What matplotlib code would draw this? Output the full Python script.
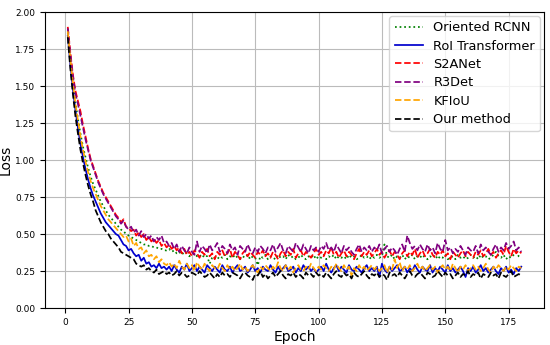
import matplotlib
matplotlib.use("Agg")
import matplotlib.pyplot as plt
import numpy as np

epochs = list(range(1, 181))

oriented_rcnn = [
    1.86,1.68,1.52,1.39,1.28,1.18,1.09,1.02,0.95,0.89,0.84,0.80,0.76,0.72,0.69,0.66,0.63,0.61,0.59,0.57,
    0.55,0.53,0.52,0.50,0.49,0.48,0.47,0.46,0.45,0.44,0.43,0.43,0.42,0.42,0.41,0.41,0.40,0.40,0.39,0.39,
    0.40,0.38,0.39,0.37,0.38,0.36,0.38,0.37,0.35,0.36,0.37,0.35,0.36,0.34,0.36,0.35,0.30,0.34,0.35,0.33,
    0.35,0.34,0.36,0.33,0.35,0.34,0.36,0.34,0.33,0.35,0.34,0.36,0.33,0.35,0.34,0.29,0.35,0.34,0.36,0.33,
    0.35,0.34,0.33,0.36,0.34,0.35,0.33,0.36,0.34,0.35,0.33,0.34,0.36,0.34,0.33,0.35,0.34,0.36,0.33,0.35,
    0.34,0.36,0.33,0.35,0.34,0.36,0.33,0.35,0.34,0.35,0.33,0.36,0.34,0.35,0.33,0.34,0.36,0.34,0.35,0.33,
    0.35,0.34,0.36,0.34,0.35,0.43,0.35,0.34,0.36,0.33,0.35,0.34,0.36,0.33,0.35,0.34,0.36,0.33,0.35,0.34,
    0.36,0.34,0.33,0.35,0.34,0.36,0.33,0.35,0.34,0.36,0.33,0.34,0.35,0.33,0.36,0.34,0.35,0.33,0.34,0.36,
    0.34,0.35,0.33,0.36,0.34,0.35,0.33,0.34,0.36,0.38,0.35,0.34,0.36,0.33,0.35,0.34,0.36,0.38,0.35,0.34,
]

roi_transformer = [
    1.84,1.65,1.48,1.34,1.22,1.11,1.02,0.94,0.87,0.81,0.76,0.72,0.68,0.64,0.61,0.58,0.56,0.54,0.52,0.50,
    0.49,0.46,0.43,0.42,0.39,0.40,0.37,0.35,0.36,0.32,0.34,0.30,0.31,0.28,0.29,0.27,0.30,0.27,0.28,0.26,
    0.28,0.25,0.29,0.26,0.24,0.28,0.26,0.30,0.25,0.27,0.29,0.25,0.28,0.26,0.24,0.29,0.27,0.25,0.28,0.26,
    0.24,0.29,0.26,0.25,0.28,0.24,0.27,0.29,0.25,0.26,0.28,0.24,0.26,0.29,0.25,0.27,0.24,0.28,0.26,0.25,
    0.29,0.26,0.24,0.28,0.25,0.27,0.29,0.25,0.26,0.28,0.24,0.27,0.25,0.29,0.26,0.28,0.25,0.27,0.24,0.26,
    0.28,0.25,0.30,0.26,0.24,0.27,0.29,0.25,0.28,0.26,0.24,0.29,0.26,0.25,0.28,0.26,0.24,0.27,0.29,0.25,
    0.27,0.25,0.28,0.21,0.30,0.26,0.24,0.28,0.25,0.27,0.29,0.25,0.26,0.28,0.24,0.27,0.25,0.29,0.26,0.24,
    0.28,0.26,0.25,0.29,0.24,0.27,0.25,0.28,0.26,0.24,0.29,0.25,0.27,0.24,0.26,0.28,0.25,0.21,0.27,0.25,
    0.28,0.24,0.26,0.29,0.25,0.27,0.24,0.26,0.28,0.25,0.23,0.27,0.25,0.28,0.24,0.26,0.23,0.27,0.25,0.28,
]

s2anet = [
    1.90,1.73,1.58,1.47,1.40,1.33,1.24,1.16,1.08,1.01,0.96,0.91,0.86,0.82,0.78,0.75,0.72,0.69,0.66,0.63,
    0.61,0.58,0.60,0.55,0.54,0.52,0.53,0.49,0.51,0.48,0.50,0.46,0.48,0.45,0.47,0.44,0.46,0.42,0.44,0.41,
    0.43,0.40,0.42,0.39,0.41,0.37,0.40,0.36,0.38,0.35,0.39,0.37,0.34,0.38,0.36,0.40,0.35,0.37,0.33,0.38,
    0.36,0.39,0.35,0.37,0.40,0.34,0.38,0.36,0.33,0.37,0.39,0.35,0.38,0.36,0.34,0.38,0.36,0.39,0.35,0.37,
    0.34,0.38,0.36,0.33,0.37,0.39,0.35,0.38,0.36,0.40,0.34,0.37,0.39,0.35,0.38,0.36,0.34,0.37,0.40,0.36,
    0.38,0.35,0.39,0.37,0.41,0.36,0.38,0.34,0.37,0.39,0.35,0.38,0.36,0.33,0.37,0.40,0.35,0.38,0.36,0.39,
    0.35,0.37,0.40,0.36,0.38,0.34,0.37,0.39,0.35,0.38,0.36,0.33,0.37,0.39,0.35,0.38,0.36,0.40,0.34,0.37,
    0.39,0.35,0.37,0.40,0.36,0.34,0.38,0.36,0.39,0.35,0.37,0.33,0.38,0.36,0.34,0.37,0.39,0.35,0.38,0.36,
    0.34,0.38,0.36,0.39,0.35,0.37,0.40,0.36,0.38,0.34,0.37,0.39,0.36,0.42,0.38,0.35,0.40,0.37,0.39,0.37,
]

r3det = [
    1.89,1.72,1.57,1.45,1.38,1.30,1.22,1.14,1.07,1.00,0.95,0.90,0.85,0.81,0.77,0.74,0.71,0.68,0.65,0.62,
    0.60,0.57,0.59,0.55,0.53,0.55,0.51,0.53,0.49,0.52,0.48,0.50,0.47,0.49,0.45,0.48,0.46,0.49,0.44,0.45,
    0.42,0.44,0.40,0.43,0.38,0.42,0.39,0.37,0.41,0.38,0.36,0.45,0.38,0.42,0.40,0.37,0.43,0.39,0.41,0.44,
    0.38,0.42,0.40,0.37,0.43,0.39,0.41,0.36,0.42,0.40,0.38,0.43,0.39,0.37,0.41,0.38,0.42,0.40,0.37,0.41,
    0.39,0.43,0.38,0.41,0.44,0.39,0.37,0.42,0.40,0.38,0.44,0.41,0.38,0.43,0.40,0.37,0.42,0.39,0.41,0.38,
    0.42,0.40,0.44,0.39,0.41,0.38,0.43,0.40,0.37,0.42,0.39,0.41,0.38,0.36,0.40,0.43,0.38,0.41,0.39,0.42,
    0.38,0.41,0.39,0.43,0.37,0.40,0.42,0.38,0.41,0.39,0.36,0.40,0.43,0.38,0.49,0.44,0.40,0.42,0.39,0.43,
    0.40,0.38,0.43,0.39,0.41,0.37,0.44,0.40,0.38,0.46,0.39,0.41,0.37,0.40,0.38,0.42,0.39,0.36,0.41,0.39,
    0.38,0.42,0.37,0.43,0.39,0.41,0.38,0.36,0.40,0.43,0.38,0.41,0.39,0.44,0.40,0.42,0.45,0.39,0.41,0.38,
]

kfiou = [
    1.87,1.68,1.52,1.38,1.27,1.16,1.07,0.99,0.92,0.86,0.81,0.77,0.73,0.69,0.66,0.63,0.60,0.58,0.56,0.54,
    0.52,0.50,0.48,0.49,0.45,0.47,0.42,0.44,0.40,0.41,0.37,0.39,0.35,0.36,0.33,0.35,0.31,0.33,0.30,0.29,
    0.31,0.28,0.30,0.27,0.32,0.28,0.26,0.30,0.27,0.29,0.25,0.31,0.28,0.26,0.30,0.27,0.25,0.29,0.27,0.26,
    0.30,0.27,0.25,0.29,0.26,0.28,0.25,0.27,0.30,0.26,0.28,0.25,0.27,0.29,0.26,0.24,0.28,0.26,0.29,0.27,
    0.25,0.28,0.26,0.31,0.27,0.25,0.29,0.26,0.28,0.24,0.27,0.29,0.26,0.25,0.28,0.26,0.30,0.27,0.25,0.28,
    0.26,0.29,0.27,0.25,0.28,0.26,0.30,0.27,0.25,0.29,0.26,0.28,0.22,0.27,0.25,0.29,0.26,0.28,0.25,0.27,
    0.29,0.26,0.28,0.25,0.27,0.29,0.24,0.28,0.26,0.33,0.27,0.31,0.25,0.28,0.26,0.29,0.25,0.27,0.30,0.26,
    0.28,0.25,0.27,0.29,0.26,0.28,0.24,0.27,0.29,0.26,0.28,0.25,0.30,0.27,0.24,0.28,0.26,0.29,0.25,0.27,
    0.29,0.26,0.28,0.25,0.27,0.30,0.26,0.24,0.28,0.26,0.29,0.27,0.25,0.28,0.26,0.29,0.27,0.25,0.28,0.27,
]

our_method = [
    1.83,1.62,1.45,1.30,1.18,1.07,0.98,0.90,0.83,0.77,0.72,0.66,0.62,0.58,0.55,0.52,0.50,0.47,0.45,0.43,
    0.41,0.38,0.37,0.36,0.35,0.34,0.33,0.30,0.29,0.28,0.29,0.26,0.27,0.25,0.24,0.26,0.23,0.24,0.25,0.23,
    0.24,0.22,0.23,0.25,0.22,0.24,0.23,0.21,0.22,0.24,0.23,0.22,0.25,0.23,0.21,0.22,0.24,0.22,0.20,0.23,
    0.21,0.24,0.22,0.23,0.21,0.24,0.23,0.22,0.20,0.23,0.24,0.22,0.21,0.19,0.23,0.22,0.25,0.21,0.23,0.20,
    0.22,0.24,0.21,0.23,0.25,0.22,0.20,0.23,0.22,0.24,0.21,0.23,0.22,0.20,0.24,0.22,0.23,0.21,0.24,0.22,
    0.23,0.21,0.24,0.22,0.20,0.23,0.25,0.22,0.21,0.24,0.22,0.23,0.20,0.24,0.22,0.21,0.23,0.25,0.22,0.20,
    0.23,0.22,0.24,0.21,0.23,0.22,0.19,0.24,0.22,0.23,0.21,0.24,0.22,0.20,0.23,0.25,0.22,0.21,0.23,0.24,
    0.22,0.20,0.24,0.23,0.21,0.22,0.25,0.23,0.21,0.24,0.22,0.23,0.20,0.22,0.24,0.21,0.23,0.22,0.25,0.21,
    0.23,0.22,0.24,0.20,0.23,0.22,0.21,0.24,0.22,0.23,0.20,0.24,0.22,0.21,0.23,0.25,0.21,0.22,0.23,0.22,
]

series = [
    ("Oriented RCNN", oriented_rcnn, "green", ":"),
    ("RoI Transformer", roi_transformer, "mediumblue", "-"),
    ("S2ANet", s2anet, "red", "--"),
    ("R3Det", r3det, "purple", "--"),
    ("KFIoU", kfiou, "orange", "--"),
    ("Our method", our_method, "black", "--"),
]

fig = plt.figure(figsize=(5.5, 3.45), dpi=100)
ax = fig.add_axes([0.082, 0.107, 0.907, 0.858])
for name, vals, color, ls in series:
    ax.plot(epochs, vals, color=color, linestyle=ls, linewidth=1.25, label=name)

ax.set_ylim(0, 2.0)
ax.set_yticks(np.arange(0, 2.01, 0.25))
ax.set_xticks([0, 25, 50, 75, 100, 125, 150, 175])
ax.tick_params(labelsize=6.5)
ax.grid(True, color="#bbbbbb", linewidth=0.8)
ax.set_axisbelow(True)
ax.set_xlabel("Epoch", fontsize=10, labelpad=2)
ax.set_ylabel("Loss", fontsize=10)
ax.yaxis.set_label_coords(-0.065, 0.5)
ax.legend(loc="upper right", fontsize=9.3, handlelength=2.2, labelspacing=0.42, borderaxespad=0.3)

fig.savefig("out.png", dpi=100)
